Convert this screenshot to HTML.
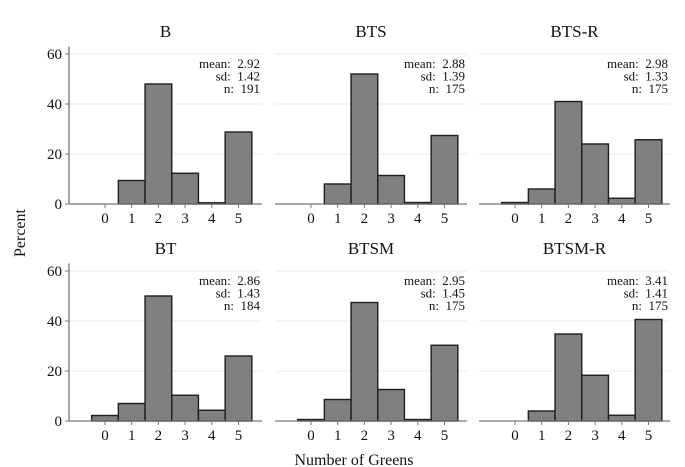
<!DOCTYPE html>
<html><head><meta charset="utf-8"><style>
body{margin:0;background:#fff;}
svg{display:block;font-family:"Liberation Serif",serif;}
</style></head><body>
<svg id="c" width="685" height="467"></svg>
<script>
const panelTitles=["B","BTS","BTS-R","BT","BTSM","BTSM-R"];
const categories=[0,1,2,3,4,5];
const valuesB=[0,9.4,48,12.3,0.5,28.8];
const valuesBTS=[0,8,52,11.4,0.6,27.4];
const valuesBTSR=[0.6,6,41,24,2.3,25.7];
const valuesBT=[2.2,7,50,10.3,4.3,26];
const valuesBTSM=[0.6,8.6,47.4,12.6,0.6,30.3];
const valuesBTSMR=[0,4,34.8,18.3,2.3,40.6];
const statsMean=["2.92","2.88","2.98","2.86","2.95","3.41"];
const statsSd=["1.42","1.39","1.33","1.43","1.45","1.41"];
const statsN=["191","175","175","184","175","175"];
const yTicks=[0,20,40,60];
const allValues=[valuesB,valuesBTS,valuesBTSR,valuesBT,valuesBTSM,valuesBTSMR];

const svg=document.getElementById('c');
const NS='http://www.w3.org/2000/svg';
function mk(tag,attrs,parent){const e=document.createElementNS(NS,tag);for(const k in attrs)e.setAttribute(k,attrs[k]);(parent||svg).appendChild(e);return e;}
const lefts=[69,275,479], widths=[193,192,191];
const zeros=[204,421];
const pxPerUnit=150/60, step=26.7;
for(let p=0;p<6;p++){
  const col=p%3,row=Math.floor(p/3);
  const L=lefts[col],W=widths[col],y0=zeros[row];
  const yS=v=>y0-v*pxPerUnit;
  const xS=c=>L+36+c*step;
  const g=mk('g',{});
  
  
  for(const t of yTicks){ if(t===0)continue;
    const gl=mk('line',{x1:L,x2:L+W,y1:yS(t),y2:yS(t),stroke:'#efefef','stroke-width':1.2},g);
    
    
  }
  const tt=mk('text',{x:L+W/2,y:y0-167,'text-anchor':'middle','font-size':17,fill:'#111'},g);
  tt.textContent=panelTitles[p];
  
  
  allValues[p].forEach((v,i)=>{
    if(v<=0)return;
    const r=mk('rect',{x:xS(categories[i])-step/2,y:yS(v),width:step,height:y0-yS(v),fill:'#808080',stroke:'#1e1e1e','stroke-width':1.4},g);
    
    
  });
  const ax=mk('line',{x1:L,x2:L+W,y1:y0,y2:y0,stroke:'#777','stroke-width':1.3},g);
  
  
  categories.forEach(c=>{
    mk('line',{x1:xS(c),x2:xS(c),y1:y0,y2:y0+4,stroke:'#777'},g);
    const tl=mk('text',{x:xS(c),y:y0+19,'text-anchor':'middle','font-size':15,fill:'#111'},g);
    tl.textContent=c;
    
    
  });
  const lines=['mean:\u00a0 '+statsMean[p],'sd:\u00a0 '+statsSd[p],'n:\u00a0 '+statsN[p]];
  lines.forEach((s,i)=>{
    const st=mk('text',{x:L+W-2,y:y0-136+i*12.5,'text-anchor':'end','font-size':13,fill:'#111'},g);
    st.textContent=s;
    
    
  });
  if(col===0){
    mk('line',{x1:L,x2:L,y1:y0,y2:yS(63),stroke:'#777','stroke-width':1.3},g);
    for(const t of yTicks){
      mk('line',{x1:L-4,x2:L,y1:yS(t),y2:yS(t),stroke:'#777'},g);
      const yl=mk('text',{x:L-7,y:yS(t)+5,'text-anchor':'end','font-size':15,fill:'#111'},g);
      yl.textContent=t;
      
      
    }
  }
}
const yt=mk('text',{x:25,y:233,'text-anchor':'middle','font-size':16,fill:'#111',transform:'rotate(-90 25 233)'});
yt.textContent='Percent';


const xt=mk('text',{x:354,y:465,'text-anchor':'middle','font-size':16,fill:'#111'});
xt.textContent='Number of Greens';


</script>
</body></html>
